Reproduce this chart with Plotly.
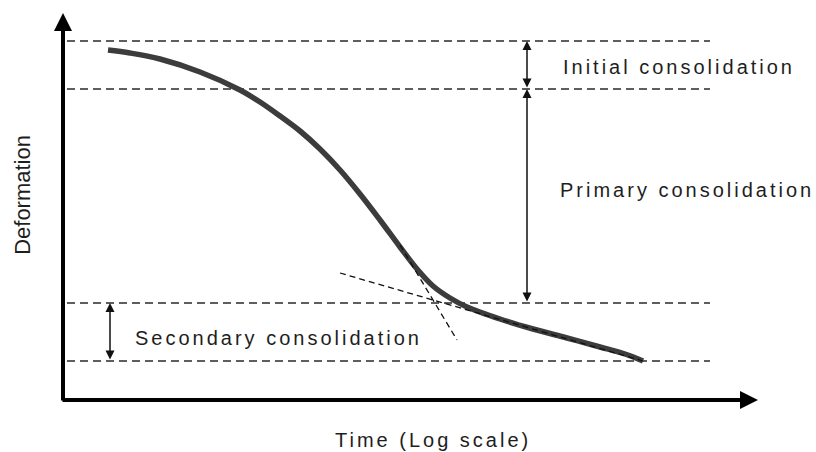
import plotly.graph_objects as go

# ---- data (x = log10 time, arbitrary units; y = deformation reading, arbitrary units) ----
curve_logt = [0.45, 0.67, 0.97, 1.37, 1.77, 1.97, 2.17, 2.37, 2.57, 2.77, 2.97, 3.17,
              3.37, 3.54, 3.70, 3.87, 4.04, 4.37, 4.70, 5.04, 5.37, 5.62, 5.80]
curve_def = [3.50, 3.47, 3.41, 3.28, 3.10, 2.98, 2.84, 2.69, 2.51, 2.30, 2.06, 1.80,
             1.53, 1.31, 1.14, 1.02, 0.93, 0.81, 0.71, 0.62, 0.53, 0.46, 0.39]

level_names = ["start", "end of initial", "end of primary", "end of secondary"]
level_def = [3.59, 3.11, 0.97, 0.39]
level_x_span = [0.04, 6.47]

tangent_secondary_x = [2.77, 5.80]
tangent_secondary_y = [1.27, 0.39]
tangent_primary_x = [3.37, 3.94]
tangent_primary_y = [1.55, 0.60]

phase_labels = ["Initial consolidation", "Primary consolidation", "Secondary consolidation"]
x_title = "Time (Log scale)"
y_title = "Deformation"

x_max = 6.95
y_max = 3.87

FONT = "Liberation Sans, Arial, sans-serif"
TXT = "#1e1e1e"

fig = go.Figure()

# dashed reference levels
for lv in level_def:
    fig.add_trace(go.Scatter(
        x=level_x_span, y=[lv, lv], mode="lines",
        line=dict(color="#2a2a2a", width=1.6, dash="8px,5px"),
        hoverinfo="skip", showlegend=False))

# consolidation curve
fig.add_trace(go.Scatter(x=curve_logt, y=curve_def, mode="lines",
                         line=dict(color="#3c3c3c", width=5.5, shape="spline", smoothing=1.0),
                         hoverinfo="skip", showlegend=False))

# tangent construction lines (drawn over the curve, as in the figure)
fig.add_trace(go.Scatter(x=tangent_secondary_x, y=tangent_secondary_y, mode="lines",
                         line=dict(color="#111111", width=1.3, dash="6px,4px"),
                         hoverinfo="skip", showlegend=False))
fig.add_trace(go.Scatter(x=tangent_primary_x, y=tangent_primary_y, mode="lines",
                         line=dict(color="#111111", width=1.3, dash="6px,4px"),
                         hoverinfo="skip", showlegend=False))

annotations = []

# axes drawn as arrows
annotations.append(dict(x=0, y=y_max, ax=0, ay=-0.02, xref="x", yref="y", axref="x", ayref="y",
                        showarrow=True, arrowhead=2, arrowwidth=4, arrowsize=0.9,
                        arrowcolor="#000000", text=""))
annotations.append(dict(x=x_max, y=0, ax=-0.02, ay=0, xref="x", yref="y", axref="x", ayref="y",
                        showarrow=True, arrowhead=2, arrowwidth=4, arrowsize=0.9,
                        arrowcolor="#000000", text=""))

# double-headed dimension arrows
arrow_x_right = 4.64
arrow_x_left = 0.47
dims = [(arrow_x_right, level_def[0], level_def[1]),
        (arrow_x_right, level_def[1], level_def[2]),
        (arrow_x_left, level_def[2], level_def[3])]
for xa, y_top, y_bot in dims:
    annotations.append(dict(x=xa, y=y_top, ax=xa, ay=y_bot, xref="x", yref="y",
                            axref="x", ayref="y", showarrow=True, arrowside="end+start",
                            arrowhead=2, startarrowhead=2, arrowwidth=1.5,
                            arrowsize=1.2, startarrowsize=1.2,
                            arrowcolor="#111111", text=""))

def spaced(t, sp=3):
    return '<span style="letter-spacing:%dpx">%s</span>' % (sp, t)

# phase labels
annotations.append(dict(x=6.16, y=3.33, xref="x", yref="y", text=spaced(phase_labels[0]),
                        showarrow=False, xanchor="center", yanchor="middle",
                        font=dict(family=FONT, size=20, color=TXT)))
annotations.append(dict(x=6.24, y=2.10, xref="x", yref="y", text=spaced(phase_labels[1]),
                        showarrow=False, xanchor="center", yanchor="middle",
                        font=dict(family=FONT, size=20, color=TXT)))
annotations.append(dict(x=0.70, y=0.62, xref="x", yref="y", text=spaced(phase_labels[2]),
                        showarrow=False, xanchor="left", yanchor="middle",
                        font=dict(family=FONT, size=20, color=TXT)))

# axis titles
annotations.append(dict(x=-0.0576, y=0.53, xref="paper", yref="paper", text=y_title,
                        showarrow=False, textangle=-90, xanchor="center", yanchor="middle",
                        font=dict(family=FONT, size=22, color=TXT)))
annotations.append(dict(x=0.532, y=-0.103, xref="paper", yref="paper", text=spaced(x_title),
                        showarrow=False, xanchor="center", yanchor="middle",
                        font=dict(family=FONT, size=20, color=TXT)))

fig.update_layout(
    width=816, height=452,
    margin=dict(l=63, r=58, t=13, b=52),
    paper_bgcolor="white", plot_bgcolor="white",
    showlegend=False,
    annotations=annotations,
    xaxis=dict(range=[0, x_max], showgrid=False, zeroline=False, showline=False,
               showticklabels=False, ticks="", fixedrange=True),
    yaxis=dict(range=[0, y_max], showgrid=False, zeroline=False, showline=False,
               showticklabels=False, ticks="", fixedrange=True),
)

fig.write_html("out.html", config={"displayModeBar": False},
               post_script="document.body.style.margin='0';document.body.style.overflow='hidden';")
